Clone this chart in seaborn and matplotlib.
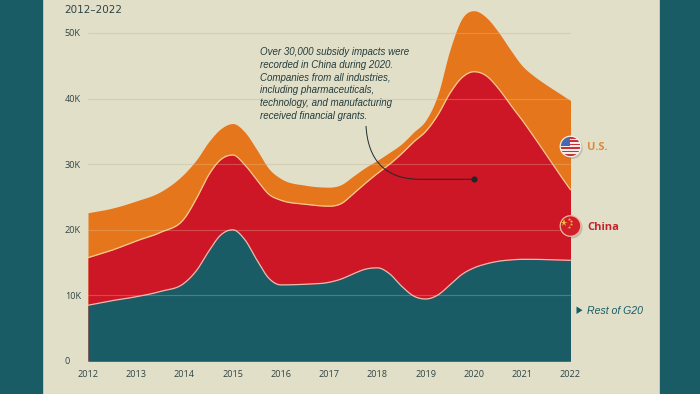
import numpy as np
import pandas as pd
import seaborn as sns
import matplotlib
matplotlib.use("Agg")
import matplotlib.pyplot as plt
from matplotlib.patches import Rectangle, Circle, PathPatch, Polygon
from matplotlib.path import Path

# ---- data: values, stacked tops of each band ----
years = [2012, 2012.5, 2013, 2013.5, 2014, 2014.25, 2014.5, 2014.75, 2015, 2015.25, 2015.5, 2015.75,
         2016, 2016.5, 2017, 2017.25, 2017.5, 2017.75, 2018, 2018.25, 2018.5, 2018.75, 2019, 2019.25,
         2019.5, 2019.75, 2020, 2020.25, 2020.5, 2020.75, 2021, 2021.25, 2021.5, 2021.75, 2022]
rest_top = [8500, 9200, 9800, 10600, 11900, 13800, 16700, 19200, 20000, 18500, 15400, 12600,
            11600, 11700, 12000, 12500, 13300, 14000, 14200, 13300, 11400, 9900, 9450, 10060,
            11600, 13200, 14200, 14800, 15200, 15400, 15500, 15500, 15450, 15400, 15350]
china_top = [15750, 16900, 18300, 19600, 21750, 24800, 28350, 30700, 31400, 29900, 27600, 25400,
             24500, 23900, 23600, 24000, 25500, 27100, 28600, 30000, 31600, 33400, 35000, 37500,
             40800, 43200, 44100, 43500, 41600, 39100, 36700, 34100, 31400, 28700, 26100]
us_top = [22600, 23300, 24400, 25800, 28600, 30700, 33400, 35400, 36200, 34900, 32200, 29300,
          27800, 26800, 26500, 26900, 28200, 29500, 30600, 31800, 33100, 34900, 36700, 40600,
          47400, 52200, 53400, 52400, 50200, 47500, 45000, 43400, 42100, 40900, 39700]
tick_years = list(range(2012, 2023))
y_ticks = [0, 10000, 20000, 30000, 40000, 50000]
y_labels = ["0", "10K", "20K", "30K", "40K", "50K"]
subtitle = "2012–2022"
note = ("Over 30,000 subsidy impacts were\nrecorded in China during 2020.\n"
        "Companies from all industries,\nincluding pharmaceuticals,\n"
        "technology, and manufacturing\nreceived financial grants.")
note_year, note_value = 2020, 27700

TEAL, CREAM, ORANGE, RED = "#1A5C66", "#E2DFC9", "#E5761B", "#CD1626"
INK = "#2F4444"


def smooth_curve(x, y, per_seg=12):
    """Draw the read points as a smooth curve through them, as the source chart's curve type does."""
    x, y = np.asarray(x, float), np.asarray(y, float)
    h = np.diff(x)
    d = np.diff(y) / h
    m = np.zeros_like(y)
    m[0], m[-1] = d[0], d[-1]
    for i in range(1, len(y) - 1):
        if d[i - 1] * d[i] > 0:
            m[i] = (h[i] * d[i - 1] + h[i - 1] * d[i]) / (h[i] + h[i - 1])
    xs, ys = [], []
    for i in range(len(h)):
        t = np.linspace(0, 1, per_seg, endpoint=False)
        xs.append(x[i] + t * h[i])
        ys.append((2*t**3 - 3*t**2 + 1) * y[i] + (t**3 - 2*t**2 + t) * h[i] * m[i]
                  + (-2*t**3 + 3*t**2) * y[i + 1] + (t**3 - t**2) * h[i] * m[i + 1])
    return np.r_[np.concatenate(xs), x[-1]], np.r_[np.concatenate(ys), y[-1]]


sns.set_theme(style="white")
plt.rcParams["font.family"] = ["Open Sans", "DejaVu Sans"]

W, H = 700, 394
fig = plt.figure(figsize=(7, 3.94), dpi=100, facecolor=TEAL)
fig.patches.append(Rectangle((43.3 / W, -0.02), 615.7 / W, 1.04, transform=fig.transFigure, facecolor=CREAM,
                             edgecolor="#BCD6D0", linewidth=0.6, zorder=-5))

ax = fig.add_axes([88 / W, (H - 361) / H, 482.5 / W, 360.8 / H])
ax.patch.set_alpha(0)
sx, s_us = smooth_curve(years, us_top)
_, s_china = smooth_curve(years, china_top)
_, s_rest = smooth_curve(years, rest_top)
ax.fill_between(sx, 0, s_us, color=ORANGE, lw=0, zorder=1)
ax.fill_between(sx, 0, s_china, color=RED, lw=0, zorder=2)
ax.fill_between(sx, 0, s_rest, color=TEAL, lw=0, zorder=3)

df = pd.DataFrame({"year": sx, "china": s_china, "rest": s_rest})
sns.lineplot(data=df, x="year", y="china", color="#F7C890", lw=0.9, ax=ax, zorder=4)
sns.lineplot(data=df, x="year", y="rest", color="#E8BDB0", lw=0.9, ax=ax, zorder=4)

for v in y_ticks[1:]:
    ax.axhline(v, color="#CFCCB4", lw=0.8, zorder=0)
    ax.axhline(v, color="#E8D8B8", alpha=0.27, lw=0.8, zorder=5)

ax.set_xlim(2012, 2022)
ax.set_ylim(0, 55000)
ax.set_xlabel("")
ax.set_ylabel("")
sns.despine(ax=ax, left=True, bottom=True)
ax.set_xticks(tick_years)
ax.set_xticklabels([str(y) for y in tick_years])
ax.set_yticks(y_ticks)
ax.set_yticklabels(y_labels)
ax.tick_params(axis="x", length=0, pad=6.2, labelsize=6.6, labelcolor=INK)
ax.tick_params(axis="y", length=0, pad=16.6, labelsize=6.6, labelcolor=INK)
for lab in ax.get_yticklabels():
    lab.set_horizontalalignment("left")

# leader dot sits on the data scale
ax.plot([note_year], [note_value], "o", ms=3.4, color="#1E2A2A", zorder=7)

# overlay in pixel coordinates for annotation furniture
ov = fig.add_axes([0, 0, 1, 1], zorder=10)
ov.set_xlim(0, W)
ov.set_ylim(H, 0)
ov.axis("off")
ov.patch.set_alpha(0)

ov.text(64, 9.5, subtitle, fontsize=7.5, color=INK, va="center", ha="left", family=["DejaVu Sans"])
ov.text(259.5, 84, note, fontsize=7.0, style="italic", color="#233C3C", va="center", ha="left",
        linespacing=1.34, family=["Liberation Sans", "DejaVu Sans"])

leader = Path([(366, 126), (368, 160), (385, 179.3), (420, 179.3), (474, 179.3)],
              [Path.MOVETO, Path.CURVE4, Path.CURVE4, Path.CURVE4, Path.LINETO])
ov.add_patch(PathPatch(leader, fill=False, edgecolor="#1E2A2A", lw=0.7))

def disc(cx, cy, r, face):
    ov.add_patch(Circle((cx + 1.2, cy + 1.6), r + 0.6, facecolor="#555555", alpha=0.25, lw=0))
    c = Circle((cx, cy), r, facecolor=face, edgecolor="none")
    ov.add_patch(c)
    return c

# U.S. flag
us_c = disc(570.5, 146.5, 10.3, "#F3EDE6")
for i in range(6):
    s = ov.add_patch(Rectangle((559, 137.0 + i * 3.4), 23, 1.6, facecolor="#C8313B", lw=0))
    s.set_clip_path(us_c)
canton = ov.add_patch(Rectangle((559, 135), 10.5, 10.5, facecolor="#4A68AE", lw=0))
canton.set_clip_path(us_c)
ov.add_patch(Circle((570.5, 146.5), 10.3, fill=False, edgecolor="#F3EDE6", lw=0.9))

# China flag
cn_c = disc(570.5, 226, 10.3, "#D01F2B")
ov.plot([563.5], [222.5], "*", ms=5.5, color="#F5C02E", mew=0)
ov.plot([568.5, 571, 571, 568.5], [218.5, 220.5, 224, 226.5], "*", ms=2.4, color="#F5C02E", mew=0)
ov.add_patch(Circle((570.5, 226), 10.3, fill=False, edgecolor="#F2B5A0", lw=0.9))

ov.text(587, 147, "U.S.", fontsize=8.0, fontweight="bold", color="#DE8A3A", va="center", ha="left")
ov.text(587, 227, "China", fontsize=8.0, fontweight="bold", color="#C4232F", va="center", ha="left")
ov.add_patch(Polygon([(576.5, 306.5), (576.5, 314), (582.5, 310.2)], closed=True, facecolor=TEAL, lw=0))
ov.text(587, 310.5, "Rest of G20", fontsize=7.6, style="italic", color=TEAL, va="center", ha="left",
        family=["Liberation Sans", "DejaVu Sans"])

fig.savefig("out.png", dpi=100, facecolor=fig.get_facecolor())
